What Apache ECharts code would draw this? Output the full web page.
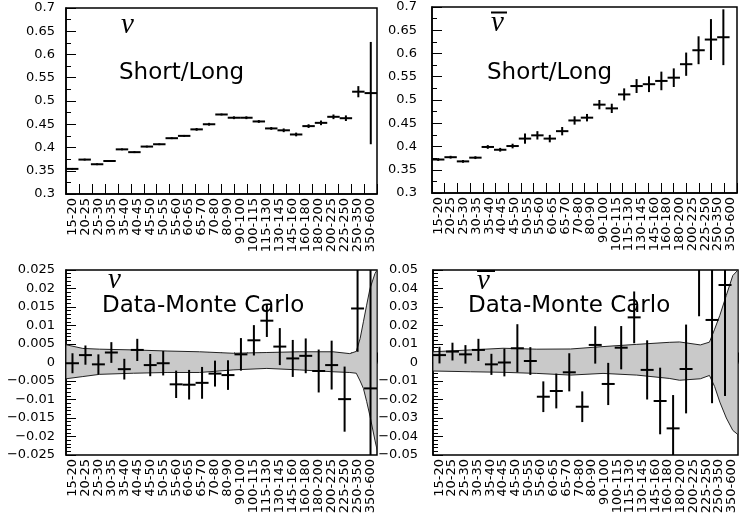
<!DOCTYPE html>
<html><head><meta charset="utf-8">
<script src="https://cdn.jsdelivr.net/npm/echarts@6/dist/echarts.min.js"></script>
<style>html,body{margin:0;padding:0;background:#fff}#c{width:739px;height:525px}</style>
</head><body><div id="c"></div>
<script>
// ---------- data ----------
const categories = ['15-20','20-25','25-30','30-35','35-40','40-45','45-50','50-55','55-60','60-65','65-70','70-80','80-90','90-100','100-115','115-130','130-145','145-160','160-180','180-200','200-225','225-250','250-350','350-600'];

// nu, Short/Long (as drawn: 25 points)
const nuShortLong    = [0.354,0.374,0.364,0.371,0.396,0.390,0.402,0.407,0.420,0.425,0.439,0.450,0.471,0.464,0.464,0.456,0.441,0.437,0.428,0.446,0.453,0.466,0.463,0.520,0.517];
const nuShortLongErr = [0.002,0.002,0.002,0.002,0.002,0.002,0.002,0.002,0.002,0.002,0.003,0.003,0.002,0.003,0.003,0.003,0.003,0.004,0.004,0.004,0.005,0.005,0.006,0.012,0.110];

// nubar, Short/Long
const nubarShortLong    = [0.372,0.377,0.368,0.376,0.399,0.393,0.401,0.417,0.424,0.417,0.433,0.456,0.462,0.490,0.482,0.512,0.530,0.534,0.541,0.548,0.577,0.607,0.630,0.635];
const nubarShortLongErr = [0.003,0.003,0.003,0.003,0.004,0.004,0.005,0.011,0.009,0.008,0.009,0.009,0.008,0.010,0.010,0.013,0.015,0.017,0.020,0.020,0.025,0.030,0.044,0.060];

// nu, Data - Monte Carlo
const nuDiff    = [-0.0002,0.0020,-0.0005,0.0027,-0.0018,0.0034,-0.0007,-0.0002,-0.0059,-0.0060,-0.0055,-0.0030,-0.0034,0.0022,0.0060,0.0113,0.0043,0.0011,0.0018,-0.0023,-0.0007,-0.0099,0.0146,-0.0070];
const nuDiffErr = [0.0027,0.0026,0.0027,0.0028,0.0028,0.0030,0.0030,0.0033,0.0037,0.0040,0.0043,0.0035,0.0040,0.0044,0.0041,0.0044,0.0050,0.0050,0.0047,0.0058,0.0066,0.0088,0.0117,0.0500];
// MC systematic band: [bin position, lower, upper]
const nuBand = [[0,-0.0044,0.0048],[1.3,-0.0038,0.0038],[2.6,-0.0032,0.0036],[5.2,-0.0029,0.0034],[7.8,-0.0027,0.0031],[10.3,-0.0027,0.0029],[12.9,-0.0020,0.0025],[15.5,-0.0016,0.0027],[18.0,-0.0020,0.0029],[20.6,-0.0025,0.0029],[21.9,-0.0027,0.0024],[22.4,-0.0029,0.0030],[22.7,-0.0050,0.0065],[22.95,-0.0070,0.0110],[23.2,-0.0105,0.0155],[23.46,-0.0145,0.0200],[23.84,-0.0210,0.0240],[24,-0.0235,0.0250]];

// nubar, Data - Monte Carlo (last bin not readable)
const nubarDiff    = [0.0040,0.0059,0.0044,0.0068,-0.0010,0.0000,0.0077,0.0008,-0.0185,-0.0154,-0.0053,-0.0239,0.0095,-0.0116,0.0080,0.0244,-0.0040,-0.0208,-0.0356,-0.0035,0.0620,0.0230,0.0419,null];
const nubarDiffErr = [0.0045,0.0048,0.0050,0.0060,0.0057,0.0075,0.0130,0.0075,0.0083,0.0094,0.0103,0.0083,0.0101,0.0114,0.0117,0.0140,0.0160,0.0180,0.0180,0.0240,0.0370,0.0450,0.0600,null];
const nubarBand = [[0,-0.0046,0.0058],[2.9,-0.0050,0.0068],[5.4,-0.0053,0.0077],[8.0,-0.0059,0.0072],[10.6,-0.0068,0.0073],[13.1,-0.0059,0.0086],[15.7,-0.0068,0.0098],[18.2,-0.0086,0.0109],[19.0,-0.0096,0.0111],[20.6,-0.0088,0.0095],[21.3,-0.0070,0.0110],[21.7,-0.0130,0.0180],[22.1,-0.0214,0.0255],[22.6,-0.0300,0.0363],[23.1,-0.0367,0.0470],[23.5,-0.0390,0.0500]];

// y-axis ranges [min, max, interval]
const ratioRange   = [0.3, 0.7, 0.05];
const nuDiffRange  = [-0.025, 0.025, 0.005];
const nubarDiffRange = [-0.05, 0.05, 0.01];

// ---------- chart ----------
const FONT = 'DejaVu Sans';
const panels = [
  {grid:{left:66, top:8, width:311, height:186}, slots:25, y:ratioRange, minor:2, vals:nuShortLong, errs:nuShortLongErr},
  {grid:{left:432, top:7, width:305, height:186}, slots:24.6, y:ratioRange, minor:2, vals:nubarShortLong, errs:nubarShortLongErr},
  {grid:{left:66, top:270, width:311, height:185}, slots:24, y:nuDiffRange, minor:5, vals:nuDiff, errs:nuDiffErr, band:nuBand},
  {grid:{left:433, top:270, width:305, height:185}, slots:23.5, y:nubarDiffRange, minor:5, vals:nubarDiff, errs:nubarDiffErr, band:nubarBand}
];

const fmt = v => String(Math.round(v*1e6)/1e6).replace('-', '\u2212');

const grid = [], xAxis = [], yAxis = [], series = [];
panels.forEach((p, i) => {
  grid.push(Object.assign({show:true, borderColor:'#000', borderWidth:1.5, containLabel:false}, p.grid));
  // label axis (category)
  xAxis.push({gridIndex:i, type:'category', data:categories, position:'bottom', boundaryGap:true,
    axisLine:{show:true, lineStyle:{color:'#000', width:1.5}},
    axisTick:{show:true, inside:true, length:10, alignWithLabel:false, interval:0, lineStyle:{color:'#000', width:1}},
    axisLabel:{interval:0, rotate:90, margin:4, fontFamily:FONT, fontSize:13, color:'#000'},
    splitLine:{show:false}});
  // data position axis (hidden)
  xAxis.push({gridIndex:i, type:'value', min:0, max:p.slots, show:false, splitLine:{show:false}});
  yAxis.push({gridIndex:i, type:'value', min:p.y[0], max:p.y[1], interval:p.y[2],
    axisLine:{show:true, lineStyle:{color:'#000', width:1.5}},
    axisTick:{show:true, inside:true, length:10, lineStyle:{color:'#000', width:1}},
    minorTick:{show:true, splitNumber:p.minor, length:5, lineStyle:{color:'#000', width:1}},
    splitLine:{show:false}, minorSplitLine:{show:false},
    axisLabel:{color:'#000', fontFamily:FONT, fontSize:13, margin:i % 2 ? 15 : 11, formatter:fmt}});
  const yMin = p.y[0], yMax = p.y[1], xMax = p.slots;
  if (p.band) {
    const band = p.band;
    series.push({type:'custom', xAxisIndex:2*i+1, yAxisIndex:i, clip:true, silent:true, z:1,
      data:[[0,0]],
      renderItem:(params, api) => {
        const pts = band.map(b => api.coord([b[0], b[2]]));
        for (let k = band.length - 1; k >= 0; k--) pts.push(api.coord([band[k][0], band[k][1]]));
        return {type:'polygon', shape:{points:pts}, style:{fill:'#c9c9c9', stroke:'#222', lineWidth:1}};
      }});
  }
  series.push({type:'custom', xAxisIndex:2*i+1, yAxisIndex:i, clip:true, silent:true, z:3,
    data:p.vals.map((v, k) => [k + 0.5, v, p.errs[k]]).filter(d => d[1] !== null),
    renderItem:(params, api) => {
      const x = api.value(0), y = api.value(1), e = api.value(2);
      const cl = v => Math.max(yMin, Math.min(yMax, v));
      const ch = [];
      const a = api.coord([x, cl(y - e)]), b = api.coord([x, cl(y + e)]);
      ch.push({type:'line', shape:{x1:a[0], y1:a[1], x2:b[0], y2:b[1]}, style:{stroke:'#000', lineWidth:2}});
      if (y >= yMin && y <= yMax) {
        const l = api.coord([Math.max(0, x - 0.5), y]), r = api.coord([Math.min(xMax, x + 0.5), y]);
        ch.push({type:'line', shape:{x1:l[0], y1:l[1], x2:r[0], y2:r[1]}, style:{stroke:'#000', lineWidth:2}});
      }
      return {type:'group', children:ch};
    }});
});

const nuFont = 'italic 29px "Liberation Serif"';
const labFont = '23px "DejaVu Sans"';
const graphic = [
  {type:'text', x:121, y:25, style:{text:'ν', font:nuFont, fill:'#000', verticalAlign:'middle'}},
  {type:'text', x:119, y:73, style:{text:'Short/Long', font:labFont, fill:'#000', verticalAlign:'middle'}},
  {type:'text', x:491, y:23, style:{text:'ν', font:nuFont, fill:'#000', verticalAlign:'middle'}},
  {type:'line', shape:{x1:491, y1:12.5, x2:507, y2:12.5}, style:{stroke:'#000', lineWidth:2}},
  {type:'text', x:487, y:73, style:{text:'Short/Long', font:labFont, fill:'#000', verticalAlign:'middle'}},
  {type:'text', x:108, y:280, style:{text:'ν', font:nuFont, fill:'#000', verticalAlign:'middle'}},
  {type:'text', x:102, y:306, style:{text:'Data-Monte Carlo', font:labFont, fill:'#000', verticalAlign:'middle'}},
  {type:'text', x:477, y:281, style:{text:'ν', font:nuFont, fill:'#000', verticalAlign:'middle'}},
  {type:'line', shape:{x1:477, y1:271, x2:495, y2:271}, style:{stroke:'#000', lineWidth:2}},
  {type:'text', x:468, y:306, style:{text:'Data-Monte Carlo', font:labFont, fill:'#000', verticalAlign:'middle'}}
];

const chart = echarts.init(document.getElementById('c'), null, {renderer:'canvas'});
chart.setOption({animation:false, backgroundColor:'#fff', grid, xAxis, yAxis, series, graphic});
</script>
</body></html>
